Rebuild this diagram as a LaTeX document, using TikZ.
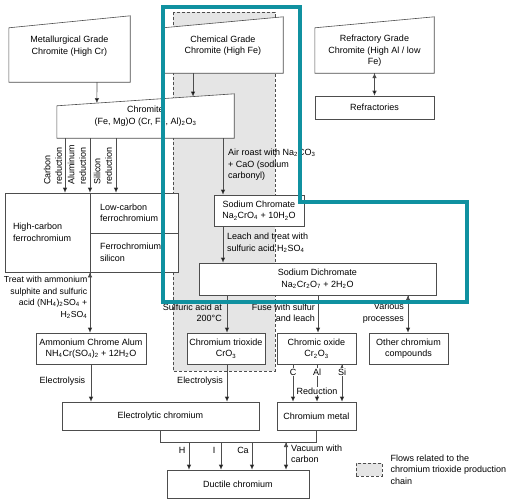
\documentclass[tikz,border=0pt]{standalone}
\usepackage{fontspec}
\setmainfont{Liberation Sans}
\usepackage{tikz}
\usetikzlibrary{positioning}
\usetikzlibrary{%
  calc,%
  arrows.meta%
}
\definecolor{lgray}{RGB}{77,77,77}
\definecolor{zone}{RGB}{229,229,229}
\definecolor{tealline}{RGB}{16,145,160}
\tikzset{
  box/.style={draw=lgray, fill=white, align=center, inner sep=0pt, line width=0.6pt},
  boxline/.style={draw=lgray, fill=white, line width=0.6pt},
  lbl/.style={inner sep=0pt},
  arr/.style={-{Latex[length=5pt,width=4.5pt]}, draw=lgray, line width=0.6pt},
  conn/.style={draw=lgray, line width=0.6pt},
  zonebox/.style={draw=lgray, fill=zone, dash pattern=on 3pt off 2pt, line width=0.6pt}
}
\newcommand{\slantbox}[2]{\filldraw[boxline] (#1.south west) -- (#1.south east) -- ([yshift=#2]#1.north east) -- (#1.north west) -- cycle;}

\begin{document}
\begin{tikzpicture}[x=1pt, y=-1pt, font=\fontsize{9}{11.5}\selectfont]
\useasboundingbox (0,0) rectangle (506,501);

% chromium trioxide zone
\fill[zone] (173,12) rectangle (275,371);
\draw[zonebox, fill=none] (173,12) rectangle (275,371);

% ores
\node[draw=none, minimum width=121pt, minimum height=54pt] (metal) at (69.5,55) {};
\slantbox{metal}{12pt}
\node[lbl, align=center] (metal-t) at (69.5,46) {Metallurgical Grade\\Chromite (High Cr)};

\node[draw=none, minimum width=120pt, minimum height=45pt] (chem) at (223,50.5) {};
\slantbox{chem}{11pt}
\node[lbl, align=center] (chem-t) at (223,45.5) {Chemical Grade\\Chromite (High Fe)};

\node[draw=none, minimum width=119pt, minimum height=45pt] (refr) at (374.5,50.5) {};
\slantbox{refr}{11pt}
\node[lbl, align=center] (refr-t) at (374.5,51) {Refractory Grade\\Chromite (High Al / low\\Fe)};

\node[box, minimum width=119pt, minimum height=23pt] (refrac) at (374.5,107.5) {Refractories};

\node[draw=none, minimum width=177pt, minimum height=32pt] (chromite) at (145.5,122) {};
\slantbox{chromite}{12pt}
\node[lbl, align=center] (chromite-t) at (145.5,116) {Chromite\\(Fe, Mg)O (Cr, Fe, Al)\textsubscript{2}O\textsubscript{3}};

% ferrochromium
\node[box, text width=69pt, inner xsep=8pt, align=left, minimum height=79pt] (hc) at (47.5,232.5) {High-carbon\\ferrochromium};
\node[box, text width=68pt, inner xsep=10pt, align=left, minimum height=40pt] (lc) at (134,213) {Low-carbon\\ferrochromium};
\node[box, text width=68pt, inner xsep=10pt, align=left, minimum height=39pt] (fs) at (134,252.5) {Ferrochromium\\silicon};

% chemical route
\node[box, minimum width=90pt, minimum height=31pt] (sodchr) at (259,210.5) {Sodium Chromate\\Na\textsubscript{2}CrO\textsubscript{4} + 10H\textsubscript{2}O};
\node[box, minimum width=237pt, minimum height=32pt] (dichr) at (317.5,279) {Sodium Dichromate\\Na\textsubscript{2}Cr\textsubscript{2}O\textsubscript{7} + 2H\textsubscript{2}O};

\node[box, minimum width=110pt, minimum height=31pt] (alum) at (91,348.5) {Ammonium Chrome Alum\\NH\textsubscript{4}Cr(SO\textsubscript{4})\textsubscript{2} + 12H\textsubscript{2}O};
\node[box, minimum width=78pt, minimum height=31pt] (trio) at (226,348.5) {Chromium trioxide\\CrO\textsubscript{3}};
\node[box, minimum width=79pt, minimum height=31pt] (cr2o3) at (316.5,348.5) {Chromic oxide\\Cr\textsubscript{2}O\textsubscript{3}};
\node[box, minimum width=79pt, minimum height=31pt] (other) at (408.5,348.5) {Other chromium\\compounds};

\node[box, minimum width=197pt, minimum height=28pt] (elec) at (160.5,416) {Electrolytic chromium};
\node[box, minimum width=79pt, minimum height=28pt] (crmet) at (316.5,416) {Chromium metal};
\node[box, minimum width=142pt, minimum height=28pt] (duct) at (238,484) {Ductile chromium};

% x positions of the connectors
\coordinate (mA) at (97,0);
\coordinate (rC) at (65,0);
\coordinate (rA) at (90,0);
\coordinate (rS) at (116,0);
\coordinate (aR) at (223,0);
\coordinate (dT) at (227,0);
\coordinate (dF) at (318,0);
\coordinate (dV) at (408,0);
\coordinate (rdC) at (293,0);
\coordinate (rdA) at (317,0);
\coordinate (rdS) at (342,0);
\coordinate (dH) at (189,0);
\coordinate (dI) at (221,0);
\coordinate (dCa) at (252,0);
\coordinate (dVc) at (286,0);
\coordinate (busy) at (0,442);
\coordinate (cA) at ($(chromite.north west)!0.226!([yshift=12pt]chromite.north east)$);
\coordinate (cB) at ($(chromite.north west)!0.768!([yshift=12pt]chromite.north east)$);

\path[arr] (mA |- metal.south) edge (cA)
           (cB |- chem.south) edge (cB)
           (refr.south) edge (refrac.north)
           ;
\path[arr] (rC |- chromite.south) edge (rC |- hc.north)
           (rA |- chromite.south) edge (rA |- hc.north)
           (rS |- chromite.south) edge (rS |- lc.north)
           (rA |- hc.south) edge (rA |- alum.north)
           ;
\path[arr] (aR |- chromite.south) edge (aR |- sodchr.north)
           (aR |- sodchr.south) edge (aR |- dichr.north)
           (dT |- dichr.south) edge (dT |- trio.north)
           (dF |- dichr.south) edge (dF |- cr2o3.north)
           (dV |- dichr.south) edge (dV |- other.north)
           ;
\path[arr] (alum.south) edge (alum.south |- elec.north)
           (dT |- trio.south) edge (dT |- elec.north)
           (rdC |- cr2o3.south) edge (rdC |- crmet.north)
           (rdA |- cr2o3.south) edge (rdA |- crmet.north)
           (rdS |- cr2o3.south) edge (rdS |- crmet.north)
           ;
\draw[conn] (elec.south) -- (elec.south |- busy) -- (crmet.south |- busy) -- (crmet.south);
\path[arr] (dH |- busy) edge (dH |- duct.north)
           (dI |- busy) edge (dI |- duct.north)
           (dCa |- busy) edge (dCa |- duct.north)
           (dVc |- busy) edge (dVc |- duct.north)
           ;

% labels
\node[lbl, rotate=90, align=left, anchor=west] (lCarb) at (53,185) {Carbon\\reduction};
\node[lbl, rotate=90, align=left, anchor=west] (lAlu) at (77,185) {Aluminum\\reduction};
\node[lbl, rotate=90, align=left, anchor=west] (lSil) at (103,185) {Silicon\\reduction};
\node[lbl, align=left, anchor=west] (lAir) at (228,165) {Air roast with Na\textsubscript{2}CO\textsubscript{3}\\+ CaO (sodium\\carbonyl)};
\node[lbl, align=left, anchor=west] (lLeach) at (227,243) {Leach and treat with\\sulfuric acid H\textsubscript{2}SO\textsubscript{4}};
\node[lbl, align=right, anchor=east, font=\fontsize{8.7}{11.5}\selectfont] (lTreat) at (87.5,297.5) {Treat with ammonium\\sulphite and sulfuric\\acid (NH\textsubscript{4})\textsubscript{2}SO\textsubscript{4} +\\H\textsubscript{2}SO\textsubscript{4}};
\node[lbl, align=right, anchor=east] (lSulf) at (222,313) {Sulfuric acid at\\200°C};
\node[lbl, align=right, anchor=east] (lFuse) at (315,313) {Fuse with sulfur\\and leach};
\node[lbl, align=right, anchor=east] (lVar) at (404,313) {Various\\processes};
\node[lbl] (lEl1) at (62.5,381) {Electrolysis};
\node[lbl] (lEl2) at (200,381) {Electrolysis};
\node[lbl, fill=white, inner sep=1pt] (lC) at (rdC |- 0,372) {C};
\node[lbl, fill=white, inner sep=1pt] (lAl) at (rdA |- 0,372) {Al};
\node[lbl, fill=white, inner sep=1pt] (lSi) at (rdS |- 0,372) {Si};
\node[lbl, fill=white, inner sep=1pt] (lRed) at (317,391) {Reduction};
\node[lbl] (lH) at (182,450) {H};
\node[lbl] (lI) at (214,450) {I};
\node[lbl] (lCa) at (243,450) {Ca};
\node[lbl, align=left, anchor=west] (lVac) at (291,454) {Vacuum with\\carbon};

% legend
\node[zonebox, minimum width=26pt, minimum height=13pt, inner sep=0pt] (leg) at (369,469.5) {};
\node[lbl, align=left, right=8pt of leg] (leg-t) {Flows related to the\\chromium trioxide production\\chain};

% highlight
\draw[tealline, line width=4pt, line join=miter] (163,7) -- (300,7) -- (300,202) -- (467,202) -- (467,302) -- (163,302) -- cycle;
\end{tikzpicture}
\end{document}
